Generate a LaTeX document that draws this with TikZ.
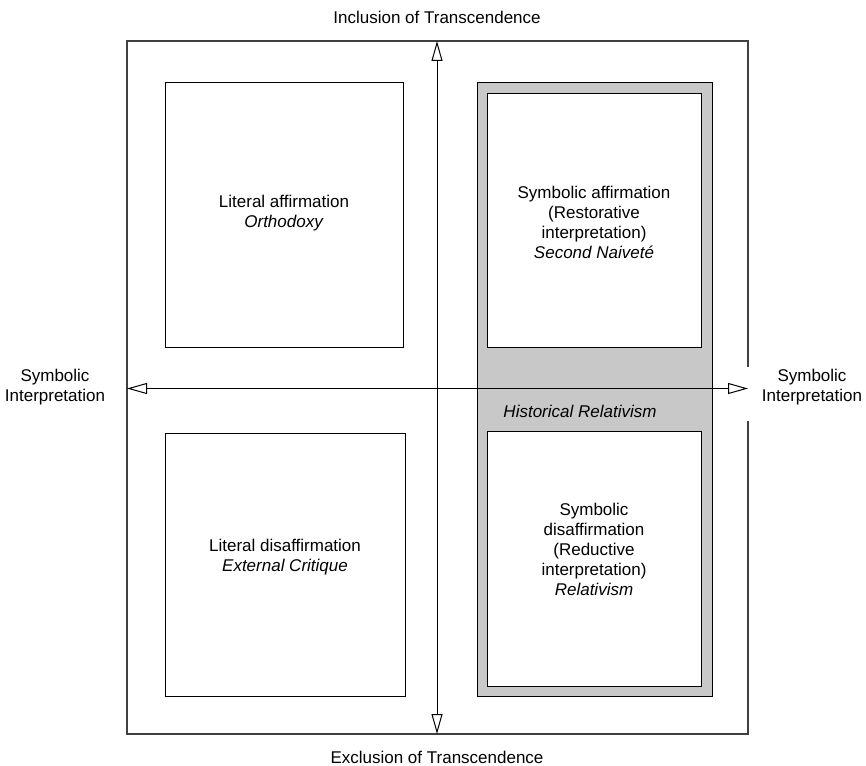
\documentclass[tikz,border=0pt]{standalone}
\usepackage{fontspec}
\setmainfont{Liberation Sans}
\usetikzlibrary{arrows.meta}
\definecolor{panelgrey}{HTML}{C8C8C8}
\definecolor{framegrey}{HTML}{404040}
\tikzset{
  txt/.style={align=center,font=\fontsize{17pt}{20pt}\selectfont,inner sep=0pt},
  qbox/.style={draw=black,line width=1pt,fill=white},
  axis/.style={line width=1pt,draw=black,
    {Triangle[length=20pt,width=11pt,fill=white,line width=1pt]}-{Triangle[length=20pt,width=11pt,fill=white,line width=1pt]}},
  frameline/.style={draw=framegrey,line width=1.2pt}
}
\begin{document}
\begin{tikzpicture}[x=1pt,y=-1pt]
\useasboundingbox (0,0) rectangle (866,765);
% outer frame with gap on the right
\draw[frameline] (748,367) -- (748,41) -- (127,41) -- (127,734) -- (748,734) -- (748,421);
% quadrant boxes
\draw[qbox] (165,83) rectangle (403,347);
\draw[qbox] (165,433) rectangle (405,696);
\draw[qbox,fill=panelgrey] (477,83) rectangle (712,696);
\draw[qbox] (487,94) rectangle (701,347);
\draw[qbox] (487,431) rectangle (701,686);
% axes
\coordinate (top) at (437,41);
\coordinate (bot) at (437,734);
\coordinate (lft) at (127,388.5);
\coordinate (rgt) at (748,388.5);
\draw[axis] (bot) -- (top);
\draw[axis] (rgt) -- (lft);
% labels
\node[txt] (inc) at (437,17) {Inclusion of Transcendence};
\node[txt] (exc) at (437,757) {Exclusion of Transcendence};
\node[txt] (ls) at (55,387) {Symbolic\\Interpretation};
\node[txt] (rs) at (812,387) {Symbolic\\Interpretation};
\node[txt] (tl) at (284,213) {Literal affirmation\\\textit{Orthodoxy}};
\node[txt] (tr) at (594,222) {Symbolic affirmation\\(Restorative\\interpretation)\\\textit{Second Naiveté}};
\node[txt] (hr) at (580,411) {\textit{Historical Relativism}};
\node[txt] (bl) at (285,557) {Literal disaffirmation\\\textit{External Critique}};
\node[txt] (br) at (594,549) {Symbolic\\disaffirmation\\(Reductive\\interpretation)\\\textit{Relativism}};
\end{tikzpicture}
\end{document}
